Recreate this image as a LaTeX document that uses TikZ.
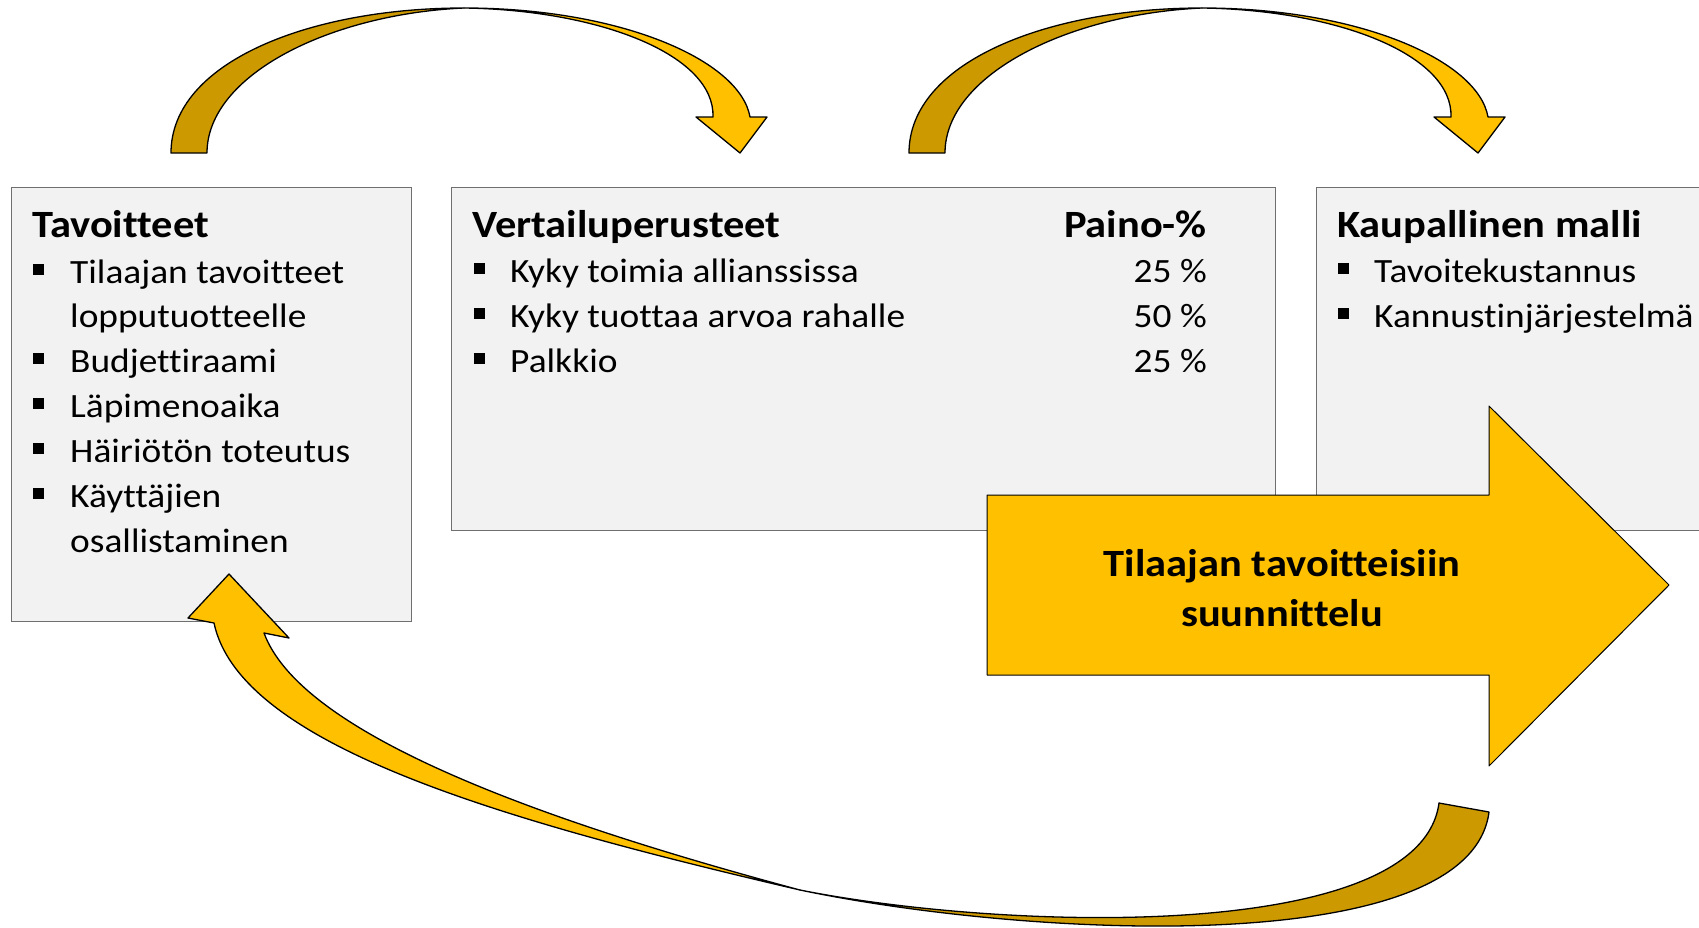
\documentclass[tikz,border=0pt]{standalone}
\usepackage{fontspec}
\setmainfont{Carlito}[FakeStretch=1.1, Ligatures=NoCommon]

\definecolor{boxfill}{HTML}{F2F2F2}
\definecolor{boxline}{HTML}{6F6F6F}
\definecolor{gold}{HTML}{FFC000}
\definecolor{darkgold}{HTML}{CC9900}

\tikzset{
  infobox/.style={draw=boxline, fill=boxfill, line width=1.2pt, inner sep=0pt, anchor=north west},
  frontpart/.style={draw=black, fill=gold, line width=1.3pt, line join=round},
  backpart/.style={draw=black, fill=darkgold, line width=1.3pt, line join=round},
  boxhead/.style={font=\bfseries\fontsize{38.6}{46}\selectfont, anchor=base west, inner sep=0pt},
  boxitem/.style={font=\fontsize{34}{42}\selectfont, anchor=base west, inner sep=0pt},
  pct/.style={font=\fontsize{34}{42}\selectfont, anchor=base east, inner sep=0pt},
  bigtext/.style={font=\bfseries\fontsize{38.6}{50}\selectfont, anchor=base, inner sep=0pt}
}

\begin{document}
\begin{tikzpicture}[x=1pt, y=-1pt]
  \clip (0,0) rectangle (1699,927);

  % the three boxes
  \node[infobox, minimum width=400pt, minimum height=434pt] (goals) at (11,187) {};
  \node[infobox, minimum width=824pt, minimum height=343pt] (criteria) at (451,187) {};
  \node[infobox, minimum width=420pt, minimum height=343pt] (model) at (1316,187) {};

  % Tavoitteet
  \node[boxhead] (goalshead) at (32,237) {Tavoitteet};
  \foreach \b/\y/\t in {1/283/Tilaajan tavoitteet, 0/327/lopputuotteelle,
      1/372/Budjettiraami, 1/417/Läpimenoaika, 1/462/Häiriötön toteutus,
      1/507/Käyttäjien, 0/552/osallistaminen}{
    \node[boxitem] (goal-\y) at (70,\y) {\t};
    \ifnum\b=1 \fill (33,\y-19) rectangle ++(11,11); \fi
  }

  % Vertailuperusteet
  \node[boxhead] (critHead) at (472,237) {Vertailuperusteet};
  \node[boxhead, anchor=base east] (weightHead) at (1207,237) {Paino-\%};
  \foreach \y/\t/\p in {282/Kyky toimia allianssissa/25,
      327/Kyky tuottaa arvoa rahalle/50, 372/Palkkio/25}{
    \node[boxitem] (crit-\y) at (510,\y) {\t};
    \node[pct] (weight-\y) at (1207,\y) {\p~\%};
    \fill (474,\y-19) rectangle ++(11,11);
  }

  % Kaupallinen malli
  \node[boxhead] (modelhead) at (1337,237) {Kaupallinen malli};
  \foreach \y/\t in {282/Tavoitekustannus, 327/Kannustinjärjestelmä}{
    \node[boxitem] (model-\y) at (1374,\y) {\t};
    \fill (1338,\y-19) rectangle ++(11,11);
  }

  % big arrow
  \draw[frontpart, line width=1pt] (987,495) -- (1489,495) -- (1489,406) -- (1669,585)
    -- (1489,766) -- (1489,675) -- (987,675) -- cycle;
  \node[bigtext] (plan1) at (1282,576) {Tilaajan tavoitteisiin};
  \node[bigtext] (plan2) at (1282,626) {suunnittelu};

  % curved arrows on top
  \foreach \dx in {0,738}{
    \begin{scope}[xshift=\dx]
      \draw[backpart] (171,153) .. controls (171,62) and (310,8) .. (464,8)
        .. controls (330,14) and (207,75) .. (207,153) -- cycle;
      \draw[frontpart] (464,8) .. controls (620,8) and (740,60) .. (750,117)
        -- (767,117) -- (740,153) -- (696,117) -- (713,117)
        .. controls (715,55) and (600,10) .. (464,8) -- cycle;
    \end{scope}
  }

  % curved arrow back to the goals
  \draw[backpart] (1439,803) .. controls (1420,945) and (1000,930) .. (800,890)
    .. controls (1030,938) and (1470,960) .. (1489,812) -- cycle;
  \draw[frontpart] (800,890) .. controls (500,820) and (240,745) .. (214,623)
    -- (188,618) -- (229,574) -- (289,638) -- (264,633)
    .. controls (300,730) and (520,815) .. (800,890) -- cycle;
\end{tikzpicture}
\end{document}
